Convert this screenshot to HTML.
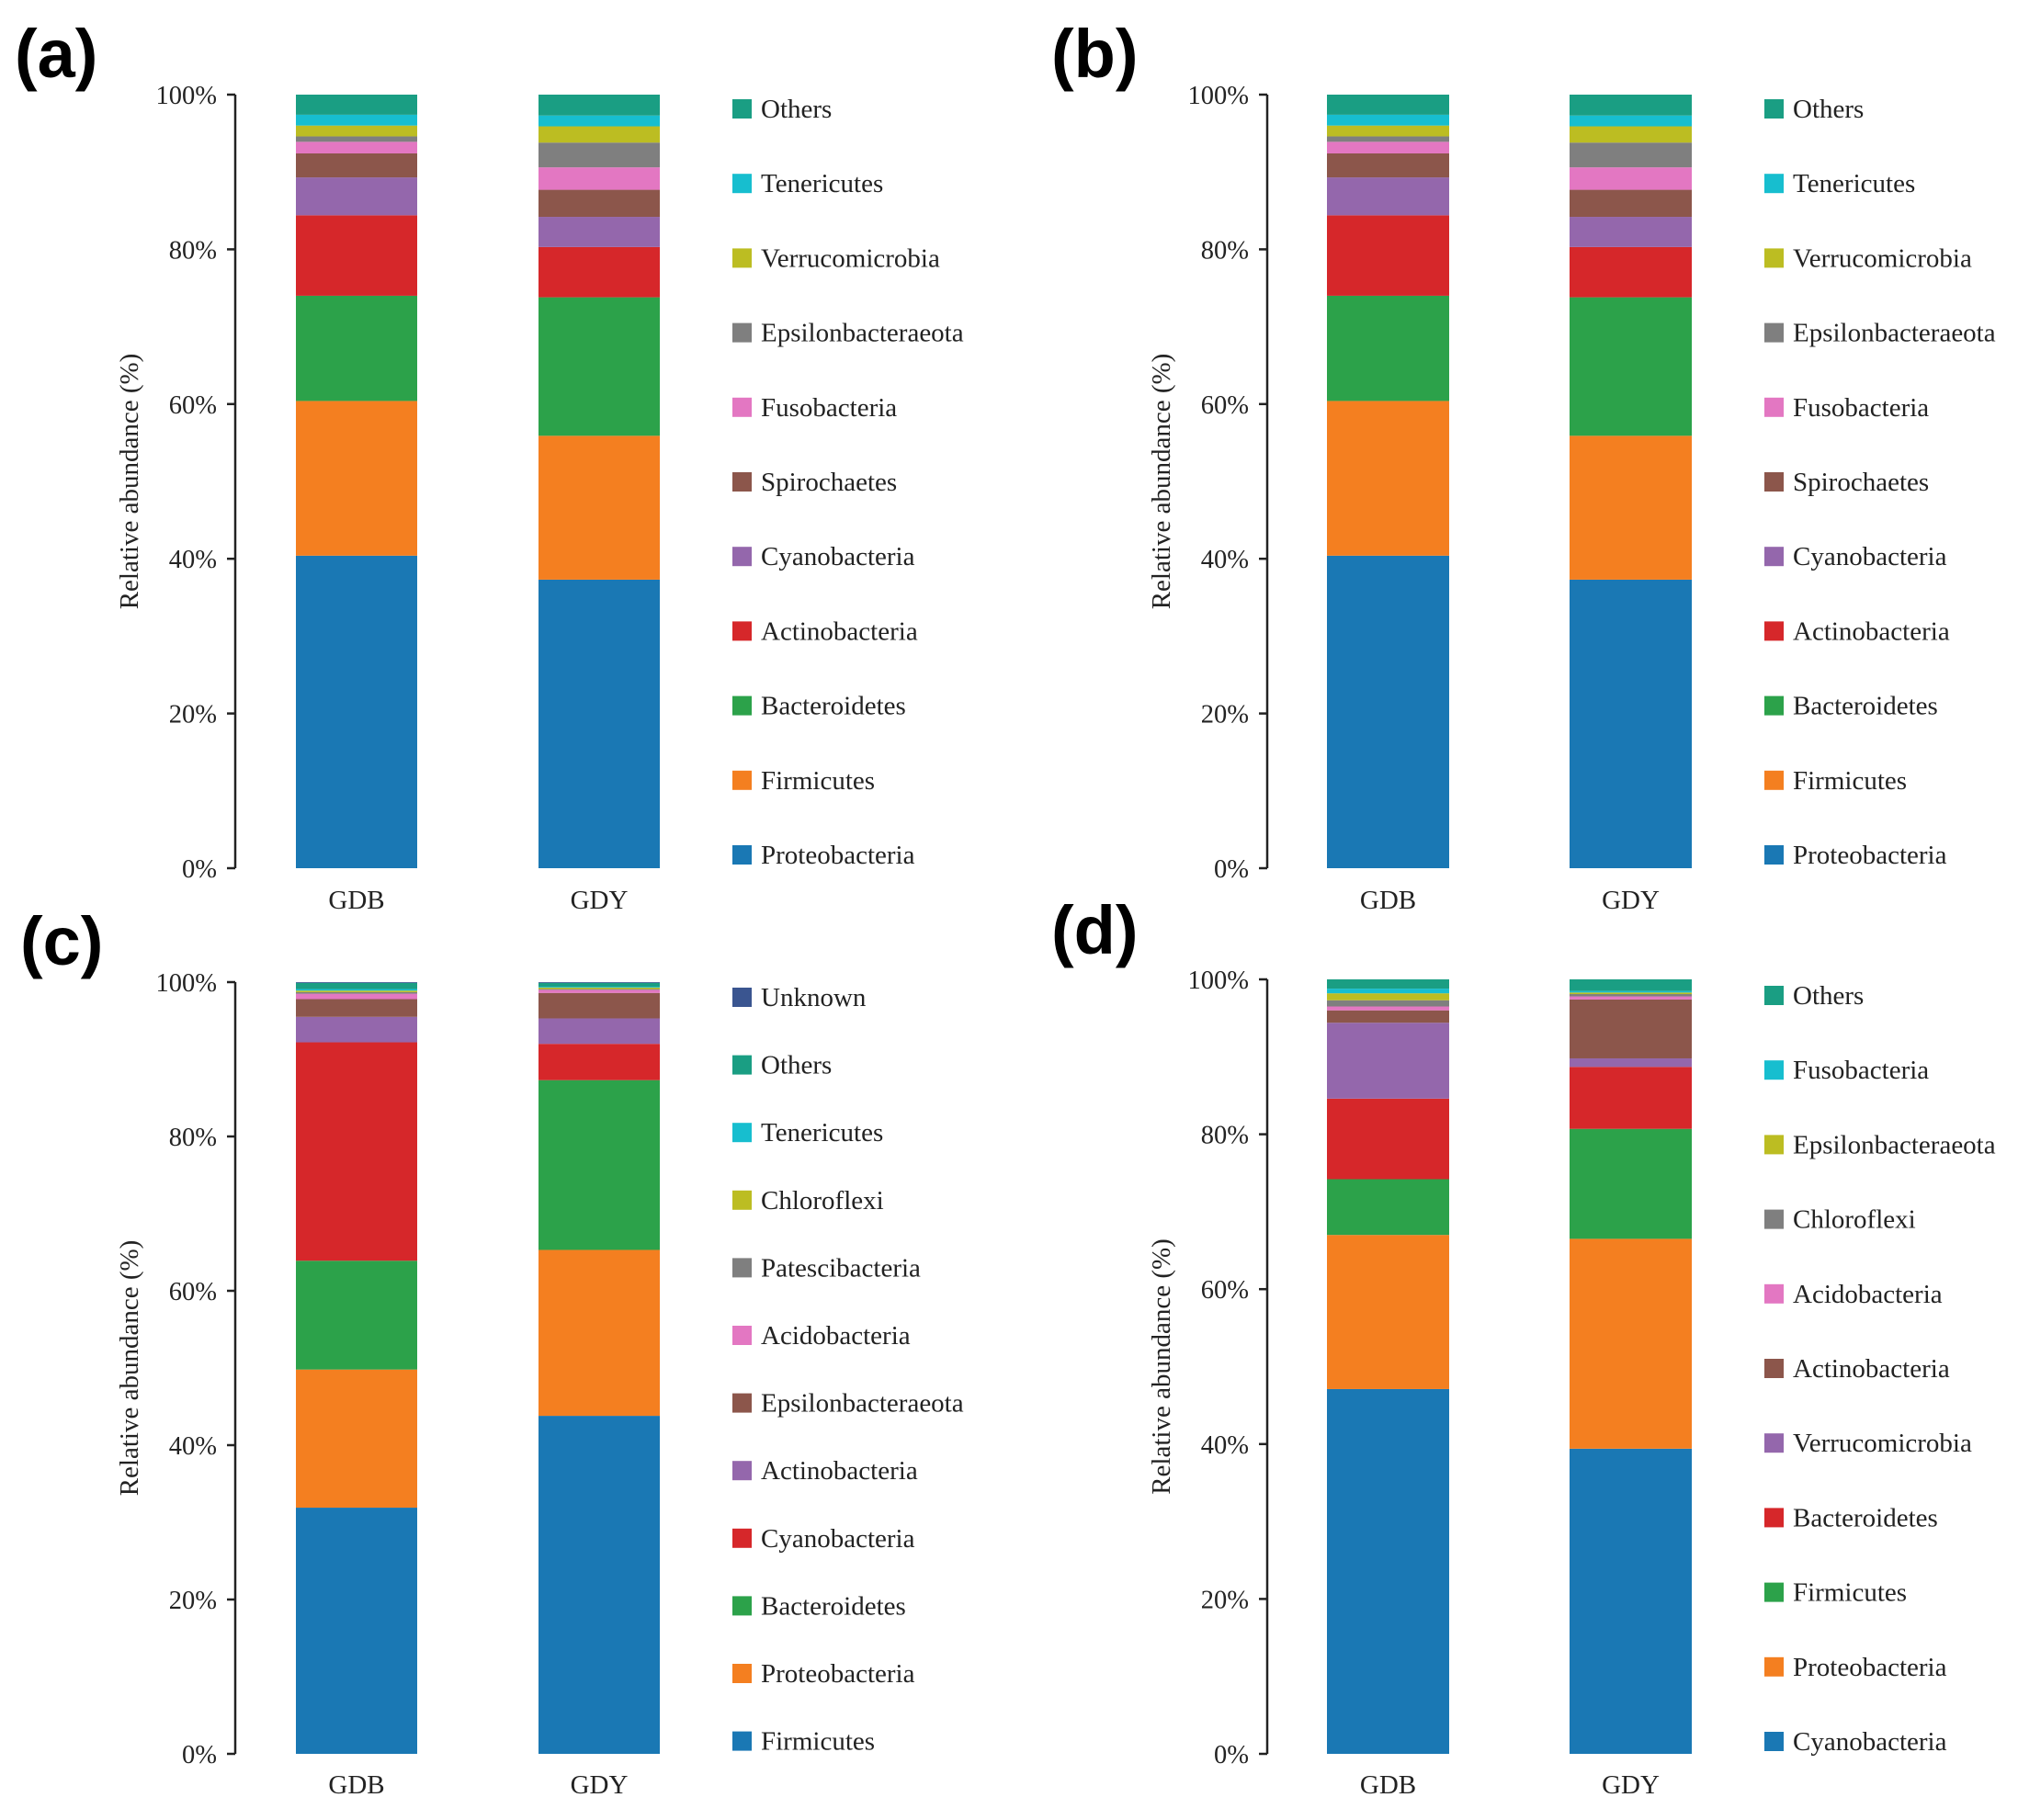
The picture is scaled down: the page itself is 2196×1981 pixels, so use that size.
<!DOCTYPE html>
<html><head><meta charset="utf-8"><style>
body{margin:0;background:#fff;}
svg{display:block;}
text{font-family:"Liberation Serif",serif;fill:#222;}
.pl{font-family:"Liberation Sans",sans-serif;font-weight:bold;fill:#000;}
</style></head><body>
<svg id="fig" width="2196" height="1981" viewBox="0 0 2196 1981" xmlns="http://www.w3.org/2000/svg"></svg>
<script>
const samples = ["GDB","GDY"];
const tickLabels = ["0%","20%","40%","60%","80%","100%"];
const tickValues = [0,20,40,60,80,100];
const palette = ["#1a78b4","#f47f20","#2ca24a","#d6272a","#9467ac","#8c564b","#e377c2","#7f7f7f","#bcbd22","#17becf","#1a9e83","#3a5590"];

const catsA = ["Proteobacteria","Firmicutes","Bacteroidetes","Actinobacteria","Cyanobacteria","Spirochaetes","Fusobacteria","Epsilonbacteraeota","Verrucomicrobia","Tenericutes","Others"];
const gdbA = [40.4,20.0,13.6,10.4,4.9,3.1,1.5,0.7,1.4,1.4,2.6];
const gdyA = [37.3,18.6,17.9,6.5,3.9,3.5,2.9,3.2,2.1,1.4,2.7];

const catsB = ["Proteobacteria","Firmicutes","Bacteroidetes","Actinobacteria","Cyanobacteria","Spirochaetes","Fusobacteria","Epsilonbacteraeota","Verrucomicrobia","Tenericutes","Others"];
const gdbB = [40.4,20.0,13.6,10.4,4.9,3.1,1.5,0.7,1.4,1.4,2.6];
const gdyB = [37.3,18.6,17.9,6.5,3.9,3.5,2.9,3.2,2.1,1.4,2.7];

const catsC = ["Firmicutes","Proteobacteria","Bacteroidetes","Cyanobacteria","Actinobacteria","Epsilonbacteraeota","Acidobacteria","Patescibacteria","Chloroflexi","Tenericutes","Others","Unknown"];
const gdbC = [31.9,17.9,14.1,28.3,3.3,2.3,0.7,0.2,0.2,0.2,0.8,0.1];
const gdyC = [43.8,21.5,22.0,4.7,3.3,3.3,0.4,0.1,0.2,0.1,0.5,0.1];

const catsD = ["Cyanobacteria","Proteobacteria","Firmicutes","Bacteroidetes","Verrucomicrobia","Actinobacteria","Acidobacteria","Chloroflexi","Epsilonbacteraeota","Fusobacteria","Others"];
const gdbD = [47.1,19.9,7.2,10.4,9.8,1.6,0.5,0.8,0.9,0.6,1.2];
const gdyD = [39.4,27.1,14.2,8.0,1.1,7.6,0.4,0.3,0.2,0.2,1.5];

const NS = "http://www.w3.org/2000/svg";
const svg = document.getElementById("fig");
function mk(tag, attrs, parent){
  const e = document.createElementNS(NS, tag);
  for (const k in attrs) e.setAttribute(k, attrs[k]);
  (parent||svg).appendChild(e);
  return e;
}

function panel(id, label, cats, series, o){
  const g = mk("g", {});
  
  
  const y = v => o.bottom - (v/100)*(o.bottom - o.top);
  const pl = mk("text", {x:o.lx, y:o.ly, "font-size":74, class:"pl"}, g);
  pl.textContent = label;
  
  
  const ax = mk("line", {x1:o.ax, x2:o.ax, y1:o.top, y2:o.bottom, stroke:"#222", "stroke-width":2.5}, g);
  
  
  tickValues.forEach((tv,i)=>{
    const t = mk("line", {x1:o.ax-9, x2:o.ax, y1:y(tv), y2:y(tv), stroke:"#222", "stroke-width":2.5}, g);
    
    
    const tl = mk("text", {x:o.ax-20, y:y(tv)+10, "font-size":28.5, "text-anchor":"end"}, g);
    tl.textContent = tickLabels[i];
    
    
  });
  const yt = mk("text", {x:0, y:0, "font-size":29, "text-anchor":"middle", transform:`translate(${o.ax-106},${(o.top+o.bottom)/2}) rotate(-90)`}, g);
  yt.textContent = "Relative abundance (%)";
  
  
  series.forEach((vals, si)=>{
    const bx = o.ax + o.barOff[si];
    let acc = 0;
    vals.forEach((v, ci)=>{
      const r = mk("rect", {x:bx, y:y(acc+v), width:o.bw, height:y(acc)-y(acc+v), fill:palette[ci]}, g);
      
      
      acc += v;
    });
    const xl = mk("text", {x:bx+o.bw/2, y:o.xly, "font-size":29, "text-anchor":"middle"}, g);
    xl.textContent = samples[si];
    
    
  });
  const n = cats.length;
  for (let k=0;k<n;k++){
    const ci = n-1-k;
    const cy = o.legTop + k*o.legGap;
    const lg = mk("g", {}, g);
    
    
    mk("rect", {x:o.legX, y:cy-10, width:21, height:21, fill:palette[ci]}, lg);
    const lt = mk("text", {x:o.legX+31, y:cy+10, "font-size":29}, lg);
    lt.textContent = cats[ci];
  }
}

const leftBase = {ax:256, barOff:[66,330], bw:132, legX:797};
const rightBase = {ax:1379, barOff:[65,329], bw:133, legX:1920};
panel("a","(a)",catsA,[gdbA,gdyA],Object.assign({},leftBase,{top:103,bottom:945,xly:989,legTop:118,legGap:81.2,lx:16,ly:84}));
panel("b","(b)",catsB,[gdbB,gdyB],Object.assign({},rightBase,{top:103,bottom:945,xly:989,legTop:118,legGap:81.2,lx:1144,ly:84}));
panel("c","(c)",catsC,[gdbC,gdyC],Object.assign({},leftBase,{top:1069,bottom:1909,xly:1952,legTop:1085,legGap:73.6,lx:22,ly:1050}));
panel("d","(d)",catsD,[gdbD,gdyD],Object.assign({},rightBase,{top:1066,bottom:1909,xly:1952,legTop:1083,legGap:81.2,lx:1144,ly:1038}));
</script>
</body></html>
